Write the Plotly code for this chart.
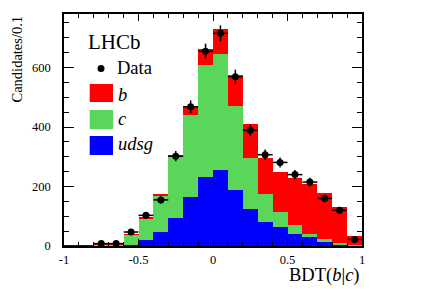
import numpy as np
import plotly.graph_objects as go

# ---------------- data ----------------
bin_centers = [-0.95, -0.85, -0.75, -0.65, -0.55, -0.45, -0.35, -0.25, -0.15, -0.05,
               0.05, 0.15, 0.25, 0.35, 0.45, 0.55, 0.65, 0.75, 0.85, 0.95]
udsg = [1.5, 1.5, 1, 1, 3, 20, 48, 95, 166, 233, 255, 188, 123, 80, 63, 39, 29, 12, 6, 2]
c_plus_udsg = [1.5, 1.5, 4, 4, 37, 93, 168, 298, 440, 608, 645, 470, 295, 175, 115, 70, 40, 22, 9, 3]
total = [1.5, 1.5, 5, 5, 40, 96, 175, 306, 470, 661, 728, 574, 410, 295, 250, 230, 207, 179, 130, 34]
data = [None, None, 8, 8, 47, 103, 155, 302, 468, 655, 715, 569, 389, 307, 281, 240, 215, 160, 120, 22]

c_vals = [a - b for a, b in zip(c_plus_udsg, udsg)]
b_vals = [a - b for a, b in zip(total, c_plus_udsg)]
data_err = [None if d is None else float(np.sqrt(d)) for d in data]

x_tickvals = [-1, -0.5, 0, 0.5, 1]
x_ticktext = ["-1", "-0.5", "0", "0.5", "1"]
y_tickvals = [0, 200, 400, 600]
y_ticktext = ["0", "200", "400", "600"]

RED = "#FF0000"
GREEN = "#5AD75A"
BLUE = "#0000FF"
FONT = "Liberation Serif"

W, H = 427, 290
L, R, T, B = 64, 65, 14, 44
pw, ph = W - L - R, H - T - B


def px(xp):
    return (xp - L) / pw


def py(yp):
    return (H - B - yp) / ph


fig = go.Figure()
for name, vals, col in [("udsg", udsg, BLUE), ("c", c_vals, GREEN), ("b", b_vals, RED)]:
    fig.add_trace(go.Bar(x=bin_centers, y=vals, width=0.1, marker=dict(color=col, line=dict(width=0)),
                         name=name, showlegend=False))

fig.add_trace(go.Scatter(
    x=bin_centers, y=data, mode="markers",
    marker=dict(color="black", size=7),
    error_y=dict(type="data", array=data_err, visible=True, color="black", thickness=1.5, width=0),
    error_x=dict(type="constant", value=0.05, visible=True, color="black", thickness=1.5, width=0),
    showlegend=False))

shapes = []
annotations = []

# legend boxes
for col, y0, y1 in [(RED, 84, 102), (GREEN, 110, 129), (BLUE, 136, 155)]:
    shapes.append(dict(type="rect", xref="paper", yref="paper",
                       x0=px(89.7), x1=px(113), y0=py(y1), y1=py(y0),
                       fillcolor=col, line=dict(width=0)))
# legend data marker
shapes.append(dict(type="circle", xref="paper", yref="paper",
                   x0=px(97.5), x1=px(104.5), y0=py(72), y1=py(65),
                   fillcolor="black", line=dict(width=0)))

annotations.append(dict(text="LHCb", xref="paper", yref="paper", x=px(86), y=py(42),
                        xanchor="left", yanchor="middle", showarrow=False,
                        font=dict(family=FONT, size=21, color="black")))
annotations.append(dict(text="Data", xref="paper", yref="paper", x=px(115), y=py(68),
                        xanchor="left", yanchor="middle", showarrow=False,
                        font=dict(family=FONT, size=18.5, color="black")))
for txt, yc in [("b", 95), ("c", 119), ("udsg", 144)]:
    annotations.append(dict(text="<i>%s</i>" % txt, xref="paper", yref="paper", x=px(116), y=py(yc),
                            xanchor="left", yanchor="middle", showarrow=False,
                            font=dict(family=FONT, size=18.5, color="black")))

# axis titles
annotations.append(dict(text="BDT(<i>b</i>|<i>c</i>)", xref="paper", yref="paper", x=1.0, y=py(275.5),
                        xanchor="right", yanchor="middle", showarrow=False,
                        font=dict(family=FONT, size=18.5, color="black")))
annotations.append(dict(text="Candidates/0.1", xref="paper", yref="paper", x=px(16), y=py(14),
                        xanchor="center", yanchor="top", textangle=-90, showarrow=False,
                        font=dict(family=FONT, size=14.5, color="black")))

fig.update_layout(
    width=W, height=H,
    margin=dict(l=L, r=R, t=T, b=B, pad=0),
    paper_bgcolor="white", plot_bgcolor="white",
    barmode="stack", bargap=0,
    shapes=shapes, annotations=annotations,
    font=dict(family=FONT, size=12.5, color="black"),
    showlegend=False,
)
fig.update_xaxes(range=[-1, 1], tickvals=x_tickvals, ticktext=x_ticktext,
                 ticks="inside", ticklen=7, tickwidth=1, tickcolor="black",
                 minor=dict(ticks="inside", ticklen=4, dtick=0.1, tickcolor="black", tickwidth=1),
                 showline=True, linecolor="black", linewidth=1.5, mirror="ticks",
                 showgrid=False, zeroline=False, ticklabelstandoff=1,
                 tickfont=dict(family=FONT, size=12.5))
fig.update_yaxes(range=[0, 780], tickvals=y_tickvals, ticktext=y_ticktext,
                 ticks="inside", ticklen=10, tickwidth=1, tickcolor="black",
                 minor=dict(ticks="inside", ticklen=5, dtick=50, tickcolor="black", tickwidth=1),
                 showline=True, linecolor="black", linewidth=1.5, mirror="ticks",
                 showgrid=False, zeroline=False, ticklabelstandoff=9,
                 tickfont=dict(family=FONT, size=12.5))

fig.write_html("out.html", config={"displayModeBar": False},
               post_script="document.body.style.margin='0';document.body.style.padding='0';")
